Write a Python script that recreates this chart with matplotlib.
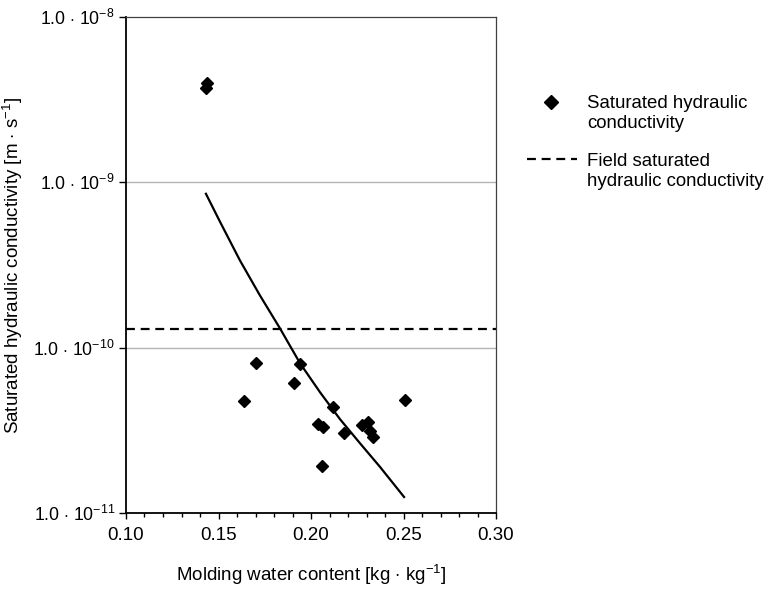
import matplotlib
matplotlib.use("Agg")
import matplotlib.pyplot as plt
from matplotlib.lines import Line2D
from matplotlib.ticker import FixedLocator, MultipleLocator, NullLocator

plt.rcParams['font.family'] = ['Liberation Sans', 'DejaVu Sans']
plt.rcParams['mathtext.fontset'] = 'custom'
plt.rcParams['mathtext.rm'] = 'Liberation Sans'
plt.rcParams['mathtext.it'] = 'Liberation Sans:italic'

# measured saturated hydraulic conductivity
water = [0.1438, 0.1430, 0.1703, 0.1636, 0.1941, 0.1908, 0.2121, 0.2508,
         0.2039, 0.2066, 0.2180, 0.2274, 0.2310, 0.2318, 0.2337, 0.2061]
ksat = [3.99e-9, 3.72e-9, 8.07e-11, 4.78e-11, 8.0e-11, 6.1e-11, 4.37e-11, 4.81e-11,
        3.47e-11, 3.32e-11, 3.05e-11, 3.40e-11, 3.55e-11, 3.12e-11, 2.88e-11, 1.92e-11]

# fitted curve
fit_w = [0.1432, 0.1508, 0.1616, 0.1724, 0.1832, 0.1941, 0.2049, 0.2157,
         0.2265, 0.2373, 0.2503]
fit_k = [8.53e-10, 5.78e-10, 3.37e-10, 2.07e-10, 1.31e-10, 8.04e-11, 5.37e-11,
         3.69e-11, 2.64e-11, 1.90e-11, 1.25e-11]

field_k = 1.30e-10

yticks = [1e-11, 1e-10, 1e-9, 1e-8]
ytick_labels = [r'1.0 $\cdot$ 10$^{-11}$', r'1.0 $\cdot$ 10$^{-10}$',
                r'1.0 $\cdot$ 10$^{-9}$', r'1.0 $\cdot$ 10$^{-8}$']
xticks = [0.10, 0.15, 0.20, 0.25, 0.30]

fig = plt.figure(figsize=(7.65, 5.89), dpi=100)
ax = fig.add_axes([0.1647, 0.129, 0.4837, 0.8421])

ax.set_yscale('log')
ax.set_xlim(0.10, 0.30)
ax.set_ylim(1e-11, 1e-8)

for g in [1e-10, 1e-9]:
    ax.axhline(g, color='#b4b4b4', lw=1.0, zorder=1)

ax.axhline(field_k, color='black', lw=1.6, linestyle=(0, (4, 2.6)), zorder=2)
ax.plot(fit_w, fit_k, color='black', lw=1.6, zorder=3)
ax.plot(water, ksat, linestyle='none', marker='D', markersize=6.2,
        color='black', zorder=4)

ax.yaxis.set_major_locator(FixedLocator(yticks))
ax.yaxis.set_minor_locator(NullLocator())
ax.set_yticklabels(ytick_labels)
ax.xaxis.set_major_locator(FixedLocator(xticks))
ax.xaxis.set_minor_locator(MultipleLocator(0.01))
ax.set_xticklabels(['%.2f' % t for t in xticks])

ax.tick_params(axis='x', which='major', direction='out', length=4, width=1.0,
               labelsize=13.5, pad=6)
ax.tick_params(axis='y', which='major', direction='out', length=5, width=1.0,
               labelsize=12.7, pad=3)
ax.tick_params(axis='x', which='minor', direction='out', length=3, width=1.0)

for s in ['left', 'bottom']:
    ax.spines[s].set_color('black')
    ax.spines[s].set_linewidth(1.3)
for s in ['top', 'right']:
    ax.spines[s].set_color('#404040')
    ax.spines[s].set_linewidth(0.9)

ax.set_xlabel(r'Molding water content [kg $\cdot$ kg$^{-1}$]', fontsize=13.5, labelpad=14)
ax.set_ylabel(r'Saturated hydraulic conductivity [m $\cdot$ s$^{-1}$]', fontsize=13.5, labelpad=6)

# legend drawn by hand so the symbols line up with the first text line
W, H = 765, 589
fig.add_artist(Line2D([551 / W], [1 - 101.5 / H], marker='D', markersize=7,
                      color='black', linestyle='none', transform=fig.transFigure))
fig.add_artist(Line2D([527 / W, 577 / W], [1 - 159 / H, 1 - 159 / H], color='black',
                      lw=1.6, linestyle=(0, (4, 2.6)), transform=fig.transFigure))
for y0, label in [(108, ['Saturated hydraulic', 'conductivity']),
                  (166, ['Field saturated', 'hydraulic conductivity'])]:
    for i, line in enumerate(label):
        fig.text(587 / W, 1 - (y0 + 20 * i) / H, line, fontsize=13.4,
                 ha='left', va='baseline')

fig.savefig('out.png', dpi=100)
